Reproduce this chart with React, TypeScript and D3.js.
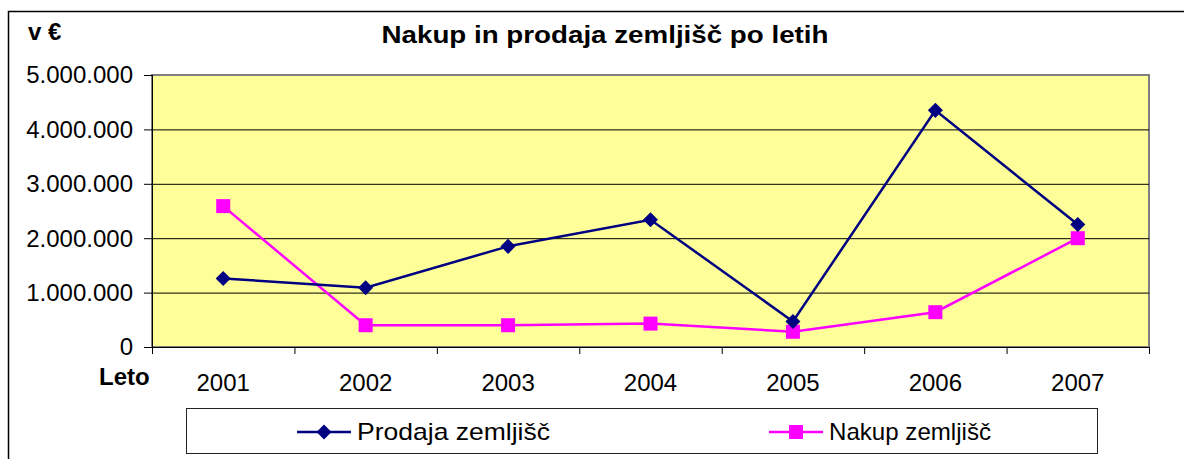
import React from 'react'
import * as d3 from 'd3'

const years = ['2001', '2002', '2003', '2004', '2005', '2006', '2007']
const prodaja = [1260000, 1090000, 1850000, 2340000, 470000, 4350000, 2250000]
const nakup = [2590000, 400000, 400000, 430000, 280000, 640000, 2000000]
const yTicks = [0, 1000000, 2000000, 3000000, 4000000, 5000000]

const width = 1184
const height = 459
const plot = { left: 152, right: 1149, top: 75, bottom: 347 }
const font = '"Liberation Sans", Arial, sans-serif'
const navy = '#000080'
const magenta = '#ff00ff'

const fmt = (v: number) => (v === 0 ? '0' : d3.format(',')(v).replace(/,/g, '.'))

const x = d3.scaleBand().domain(years).range([plot.left, plot.right])
const y = d3.scaleLinear().domain([0, 5000000]).range([plot.bottom, plot.top])
const cx = (d: string) => (x(d) as number) + x.bandwidth() / 2

const line = d3.line<number>().x((_, i) => cx(years[i])).y(v => y(v))
const diamond = d3.symbol(d3.symbolSquare, 113)()
const square = d3.symbol(d3.symbolSquare, 196)()

export default function App() {
  const bounds = years.map(d => x(d) as number).concat(plot.right)
  return (
    <svg width={width} height={height} style={{ position: 'absolute', left: 0, top: 0 }} fontFamily={font}>
      <rect x={8.5} y={11.5} width={1300} height={600} fill="#fff" stroke="#000" strokeWidth={1.5} />

      <text x={605} y={43} textAnchor="middle" fontSize={23} fontWeight="bold" textLength={447} lengthAdjust="spacingAndGlyphs">
        Nakup in prodaja zemljišč po letih
      </text>
      <text x={28} y={40} fontSize={24} fontWeight="bold">v €</text>

      <rect x={plot.left} y={plot.top} width={plot.right - plot.left} height={plot.bottom - plot.top}
        fill="#ffff99" stroke="#808080" strokeWidth={2} />
      {yTicks.slice(1, -1).map(t => (
        <line key={t} x1={plot.left} x2={plot.right} y1={y(t) + 0.5} y2={y(t) + 0.5} stroke="#000" strokeWidth={1} />
      ))}

      {/* y axis */}
      <line x1={plot.left + 0.5} x2={plot.left + 0.5} y1={plot.top} y2={plot.bottom} stroke="#000" />
      {yTicks.map(t => (
        <g key={t}>
          <line x1={144} x2={plot.left} y1={y(t) + 0.5} y2={y(t) + 0.5} stroke="#000" />
          <text x={133} y={y(t)} dy="0.35em" textAnchor="end" fontSize={24}>{fmt(t)}</text>
        </g>
      ))}

      {/* x axis */}
      <line x1={plot.left} x2={plot.right} y1={plot.bottom + 0.5} y2={plot.bottom + 0.5} stroke="#000" />
      {bounds.map((b, i) => (
        <line key={i} x1={b + 0.5} x2={b + 0.5} y1={plot.bottom} y2={plot.bottom + 7} stroke="#000" />
      ))}
      {years.map(d => (
        <text key={d} x={cx(d)} y={391} textAnchor="middle" fontSize={24}>{d}</text>
      ))}
      <text x={99} y={385} fontSize={24} fontWeight="bold">Leto</text>

      {/* series */}
      <path d={line(nakup) as string} fill="none" stroke={magenta} strokeWidth={2.5} />
      <path d={line(prodaja) as string} fill="none" stroke={navy} strokeWidth={2.5} />
      {nakup.map((v, i) => (
        <path key={'n' + i} d={square as string} transform={`translate(${cx(years[i])},${y(v)})`} fill={magenta} />
      ))}
      {prodaja.map((v, i) => (
        <path key={'p' + i} d={diamond as string} transform={`translate(${cx(years[i])},${y(v)}) rotate(45)`} fill={navy} />
      ))}

      {/* legend */}
      <rect x={186.5} y={408.5} width={911} height={45} fill="#fff" stroke="#222" strokeWidth={1} />
      <line x1={297} x2={351} y1={432} y2={432} stroke={navy} strokeWidth={2.5} />
      <path d={diamond as string} transform="translate(324,432) rotate(45)" fill={navy} />
      <text x={357} y={440} fontSize={24} textLength={193} lengthAdjust="spacingAndGlyphs">Prodaja zemljišč</text>
      <line x1={769} x2={823} y1={432} y2={432} stroke={magenta} strokeWidth={2.5} />
      <path d={square as string} transform="translate(796,432)" fill={magenta} />
      <text x={829} y={440} fontSize={24} textLength={162} lengthAdjust="spacingAndGlyphs">Nakup zemljišč</text>
    </svg>
  )
}
